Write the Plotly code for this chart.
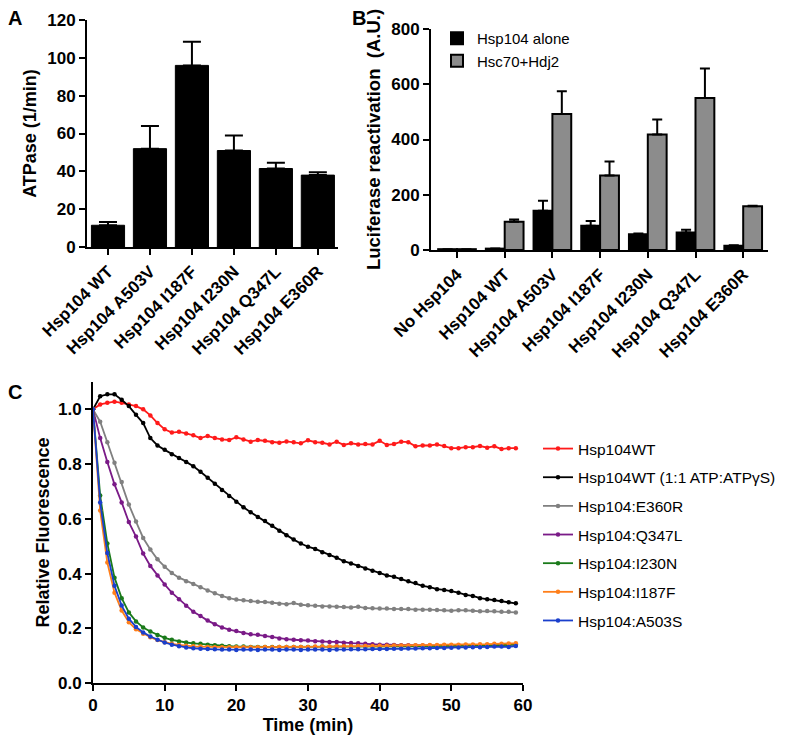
import plotly.graph_objects as go

# ---------------- Panel A data ----------------
a_labels = ["Hsp104 WT", "Hsp104 A503V", "Hsp104 I187F", "Hsp104 I230N", "Hsp104 Q347L", "Hsp104 E360R"]
a_values = [11.5, 52, 96, 51, 41.5, 38]
a_upper = [13.2, 64, 108.5, 59, 44.5, 39.5]

# ---------------- Panel B data ----------------
b_labels = ["No Hsp104", "Hsp104 WT", "Hsp104 A503V", "Hsp104 I187F", "Hsp104 I230N", "Hsp104 Q347L", "Hsp104 E360R"]
b_alone = [3, 5, 142, 88, 57, 63, 15]
b_alone_upper = [3, 5, 178, 105, 60, 73, 17]
b_chap = [3, 102, 492, 270, 418, 550, 158]
b_chap_upper = [3, 110, 575, 320, 472, 657, 160]

# ---------------- Panel C data ----------------
time_min = list(range(60))
wt = [1.0, 1.018, 1.024, 1.028, 1.024, 1.018, 1.012, 1.0, 0.978, 0.95,
      0.927, 0.915, 0.918, 0.912, 0.905, 0.895, 0.903, 0.895, 0.89, 0.888,
      0.898, 0.89, 0.882, 0.888, 0.885, 0.88, 0.878, 0.883, 0.88, 0.876,
      0.887, 0.88, 0.878, 0.872, 0.882, 0.87, 0.876, 0.872, 0.873, 0.872,
      0.885, 0.87, 0.873, 0.882, 0.88, 0.865, 0.868, 0.868, 0.872, 0.866,
      0.858, 0.858, 0.862, 0.862, 0.866, 0.86, 0.865, 0.855, 0.858, 0.858]
wt_atpgs = [1.0, 1.048, 1.055, 1.055, 1.035, 1.012, 0.98, 0.95, 0.895, 0.868,
            0.852, 0.836, 0.822, 0.808, 0.792, 0.772, 0.75, 0.728, 0.705, 0.683,
            0.662, 0.642, 0.624, 0.607, 0.592, 0.575, 0.556, 0.54, 0.524, 0.51,
            0.498, 0.49, 0.478, 0.468, 0.458, 0.445, 0.437, 0.428, 0.418, 0.41,
            0.402, 0.393, 0.388, 0.38, 0.372, 0.365, 0.355, 0.35, 0.343, 0.34,
            0.336, 0.33, 0.322, 0.318, 0.31, 0.306, 0.303, 0.3, 0.295, 0.291]
e360r = [1.0, 0.955, 0.88, 0.805, 0.735, 0.652, 0.59, 0.53, 0.488, 0.452,
         0.425, 0.402, 0.385, 0.372, 0.362, 0.35, 0.338, 0.328, 0.318, 0.31,
         0.305, 0.302, 0.3, 0.297, 0.296, 0.293, 0.29, 0.288, 0.292, 0.286,
         0.284, 0.282, 0.28, 0.28, 0.279, 0.278, 0.276, 0.279, 0.274, 0.273,
         0.272, 0.272, 0.27, 0.27, 0.27, 0.268, 0.268, 0.268, 0.267, 0.266,
         0.264, 0.266, 0.266, 0.264, 0.262, 0.263, 0.262, 0.26, 0.26, 0.258]
q347l = [1.0, 0.895, 0.808, 0.726, 0.66, 0.588, 0.535, 0.473, 0.428, 0.393,
         0.36, 0.33, 0.306, 0.282, 0.26, 0.245, 0.228, 0.215, 0.203, 0.195,
         0.19, 0.183, 0.178, 0.176, 0.172, 0.168, 0.163, 0.16, 0.158, 0.156,
         0.155, 0.153, 0.152, 0.15, 0.15, 0.147, 0.146, 0.145, 0.143, 0.142,
         0.14, 0.14, 0.139, 0.138, 0.138, 0.137, 0.137, 0.137, 0.136, 0.136,
         0.136, 0.137, 0.137, 0.137, 0.138, 0.138, 0.138, 0.139, 0.14, 0.14]
i230n = [1.0, 0.685, 0.51, 0.385, 0.31, 0.258, 0.225, 0.203, 0.188, 0.175,
         0.165, 0.158, 0.152, 0.148, 0.145, 0.143, 0.14, 0.138, 0.136, 0.134,
         0.133, 0.133, 0.132, 0.132, 0.132, 0.132, 0.132, 0.132, 0.132, 0.132,
         0.132, 0.132, 0.133, 0.132, 0.133, 0.133, 0.133, 0.133, 0.133, 0.133,
         0.133, 0.134, 0.134, 0.134, 0.134, 0.135, 0.135, 0.135, 0.135, 0.136,
         0.136, 0.136, 0.137, 0.137, 0.137, 0.138, 0.138, 0.139, 0.139, 0.14]
i187f = [1.0, 0.63, 0.44, 0.33, 0.265, 0.222, 0.196, 0.18, 0.167, 0.157,
         0.149, 0.143, 0.139, 0.136, 0.134, 0.133, 0.132, 0.131, 0.131, 0.131,
         0.131, 0.131, 0.131, 0.131, 0.132, 0.131, 0.132, 0.132, 0.132, 0.132,
         0.132, 0.133, 0.133, 0.133, 0.134, 0.134, 0.134, 0.135, 0.135, 0.135,
         0.136, 0.136, 0.137, 0.137, 0.137, 0.138, 0.138, 0.139, 0.139, 0.14,
         0.14, 0.14, 0.141, 0.141, 0.142, 0.142, 0.143, 0.143, 0.144, 0.145]
a503s = [1.0, 0.66, 0.475, 0.355, 0.283, 0.235, 0.205, 0.185, 0.17, 0.158,
         0.148, 0.14, 0.134, 0.13, 0.127, 0.125, 0.124, 0.123, 0.122, 0.122,
         0.121, 0.122, 0.122, 0.121, 0.122, 0.122, 0.121, 0.122, 0.122, 0.121,
         0.122, 0.122, 0.122, 0.121, 0.122, 0.122, 0.123, 0.123, 0.123, 0.124,
         0.124, 0.124, 0.125, 0.125, 0.126, 0.126, 0.127, 0.127, 0.128, 0.128,
         0.129, 0.13, 0.13, 0.131, 0.131, 0.132, 0.133, 0.133, 0.132, 0.135]

c_series = [
    ("Hsp104WT", wt, "#ff1a1a"),
    ("Hsp104WT (1:1 ATP:ATPγS)", wt_atpgs, "#000000"),
    ("Hsp104:E360R", e360r, "#808080"),
    ("Hsp104:Q347L", q347l, "#7a1a87"),
    ("Hsp104:I230N", i230n, "#1a7a1a"),
    ("Hsp104:I187F", i187f, "#ff7f1a"),
    ("Hsp104:A503S", a503s, "#1a3fcc"),
]

FONT = "Liberation Sans, Arial, sans-serif"
H = 745.0
W = 800.0

fig = go.Figure()

# Panel A
fig.add_trace(go.Bar(
    x=a_labels, y=a_values, xaxis="x", yaxis="y",
    marker=dict(color="black", line=dict(color="black", width=1)),
    error_y=dict(type="data", symmetric=False,
                 array=[u - v for u, v in zip(a_upper, a_values)],
                 arrayminus=[0] * len(a_values),
                 color="black", thickness=2, width=9),
    showlegend=False,
))

# Panel B
fig.add_trace(go.Bar(
    x=b_labels, y=b_alone, xaxis="x2", yaxis="y2", name="Hsp104 alone",
    marker=dict(color="black", line=dict(color="black", width=2)),
    error_y=dict(type="data", symmetric=False,
                 array=[u - v for u, v in zip(b_alone_upper, b_alone)],
                 arrayminus=[0] * len(b_alone),
                 color="black", thickness=2, width=5),
    legend="legend2", legendgroup="b1",
))
fig.add_trace(go.Bar(
    x=b_labels, y=b_chap, xaxis="x2", yaxis="y2", name="Hsc70+Hdj2",
    marker=dict(color="#8c8c8c", line=dict(color="black", width=2)),
    error_y=dict(type="data", symmetric=False,
                 array=[u - v for u, v in zip(b_chap_upper, b_chap)],
                 arrayminus=[0] * len(b_chap),
                 color="black", thickness=2, width=5),
    legend="legend2", legendgroup="b2",
))

# Panel C
for i, (name, vals, col) in enumerate(c_series):
    fig.add_trace(go.Scatter(
        x=time_min, y=vals, xaxis="x3", yaxis="y3", name=name,
        mode="lines+markers",
        line=dict(color=col, width=1.8),
        marker=dict(color=col, size=4.5),
        legendgroup=f"g{i}",
        legend="legend",
    ))

axis_common = dict(
    showline=True, linecolor="black", linewidth=2,
    ticks="outside", tickcolor="black", tickwidth=2, ticklen=6,
    showgrid=False, zeroline=False, automargin=False,
    tickfont=dict(family=FONT, size=17, color="black", weight="bold"),
)

def px_dom(a, b, total):
    return [a / total, b / total]

fig.update_layout(
    width=800, height=745,
    margin=dict(l=0, r=0, t=0, b=0, autoexpand=False),
    paper_bgcolor="white", plot_bgcolor="white",
    font=dict(family=FONT, color="black"),
    barmode="group",
    bargap=0.21,
    bargroupgap=0,
    xaxis=dict(axis_common, domain=px_dom(87, 338, W), anchor="y",
               range=[-0.5, 5.48], tickangle=-45),
    yaxis=dict(axis_common, domain=[1 - 247 / H, 1 - 20 / H], anchor="x",
               range=[0, 120], dtick=20,
               title=dict(text="ATPase (1/min)", standoff=6,
                          font=dict(family=FONT, size=18, color="black", weight="bold"))),
    xaxis2=dict(axis_common, domain=px_dom(431, 768, W), anchor="y2",
                range=[-0.545, 6.52], tickangle=-45),
    yaxis2=dict(axis_common, domain=[1 - 250 / H, 1 - 29 / H], anchor="x2",
                range=[0, 800], dtick=200,
                title=dict(text="Luciferase reactivation  (A.U.)", standoff=6,
                           font=dict(family=FONT, size=18.5, color="black", weight="bold"))),
    xaxis3=dict(axis_common, domain=px_dom(93, 523, W), anchor="y3",
                range=[0, 60], dtick=10,
                title=dict(text="Time (min)", standoff=2,
                           font=dict(family=FONT, size=18, color="black", weight="bold"))),
    yaxis3=dict(axis_common, domain=[1 - 683 / H, 1 - 382 / H], anchor="x3",
                range=[0, 1.1], tickvals=[0, 0.2, 0.4, 0.6, 0.8, 1.0], tickformat=".1f",
                title=dict(text="Relative Fluorescence", standoff=4,
                           font=dict(family=FONT, size=18, color="black", weight="bold"))),
    legend=dict(x=538 / W, y=1 - 432 / H, xanchor="left", yanchor="top",
                font=dict(family=FONT, size=15.5, color="black"),
                tracegroupgap=5.5, bgcolor="rgba(0,0,0,0)"),
    legend2=dict(x=437 / W, y=1 - 22 / H, xanchor="left", yanchor="top",
                 font=dict(family=FONT, size=15, color="black"),
                 tracegroupgap=5,
                 bgcolor="rgba(0,0,0,0)", traceorder="normal"),
    annotations=[
        dict(text="<b>A</b>", x=6 / W, y=1 - 5 / H, xref="paper", yref="paper",
             xanchor="left", yanchor="top", showarrow=False,
             font=dict(family=FONT, size=20, color="black")),
        dict(text="<b>B</b>", x=350 / W, y=1 - 5 / H, xref="paper", yref="paper",
             xanchor="left", yanchor="top", showarrow=False,
             font=dict(family=FONT, size=20, color="black")),
        dict(text="<b>C</b>", x=6 / W, y=1 - 379 / H, xref="paper", yref="paper",
             xanchor="left", yanchor="top", showarrow=False,
             font=dict(family=FONT, size=20, color="black")),
    ],
)

fig.write_html("out.html", config={"displayModeBar": False},
               post_script="document.body.style.margin='0';")
